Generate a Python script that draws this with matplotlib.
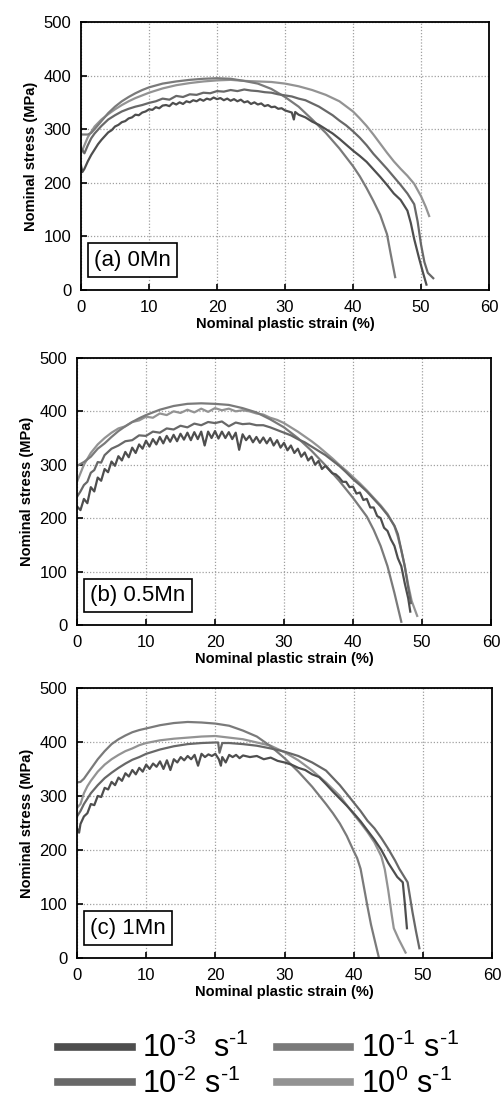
import matplotlib
matplotlib.use("Agg")
import matplotlib.pyplot as plt
from matplotlib.lines import Line2D

plt.rcParams['font.family'] = ['Liberation Sans', 'DejaVu Sans']
plt.rcParams['mathtext.fontset'] = 'custom'
plt.rcParams['mathtext.rm'] = 'Liberation Sans'
plt.rcParams['mathtext.it'] = 'Liberation Sans'

# --------------------- Data --------------------------------------------
# (a) 0Mn
a_x3 = [0, 0.2, 0.5, 1.0, 1.5, 2.0, 2.5, 3.0, 3.5, 4.0, 4.5, 5.0, 5.5, 6.0, 6.5, 7.0, 7.5, 8.0, 8.5, 9.0,
        9.5, 10.0, 10.5, 11.0, 11.5, 12.0, 12.5, 13.0, 13.5, 14.0, 14.5, 15.0, 15.5, 16.0, 16.5, 17.0, 17.5,
        18.0, 18.5, 19.0, 19.5, 20.0, 20.5, 21.0, 21.5, 22.0, 22.5, 23.0, 23.5, 24.0, 24.5, 25.0, 25.5, 26.0,
        26.5, 27.0, 27.5, 28.0, 28.5, 29.0, 29.5, 30.0, 30.5, 31.0, 31.3, 31.5, 32.0, 33, 34, 35, 36, 37, 38,
        39, 40, 41, 42, 43, 44, 45, 46, 47, 48, 48.5, 49, 49.7, 50.3, 50.8]
a_y3 = [232, 220, 226, 240, 252, 262, 272, 280, 287, 294, 298, 305, 308, 313, 315, 320, 322, 327, 326, 331,
        333, 337, 336, 341, 339, 344, 345, 343, 349, 346, 350, 347, 352, 350, 354, 352, 356, 353, 357, 355,
        359, 356, 358, 354, 357, 353, 356, 352, 355, 350, 352, 347, 350, 346, 348, 343, 345, 341, 342, 338,
        339, 335, 333, 331, 318, 332, 327, 322, 314, 308, 300, 292, 282, 271, 260, 250, 239, 225, 211, 196,
        180, 168, 148, 125, 95, 60, 32, 10]
a_x2 = [0, 0.5, 1, 1.5, 2, 3, 4, 5, 6, 7, 8, 9, 10, 11, 12, 13, 14, 15, 16, 17, 18, 19, 20, 21, 22, 23, 24,
        25, 26, 27, 28, 29, 30, 31, 32, 33, 34, 35, 36, 37, 38, 39, 40, 41, 42, 43, 44, 45, 46, 47, 48, 49,
        49.5, 50, 50.5, 51, 51.8]
a_y2 = [265, 255, 270, 283, 292, 306, 318, 326, 333, 338, 342, 345, 349, 352, 357, 355, 362, 360, 365, 364,
        368, 367, 371, 370, 373, 371, 374, 372, 371, 369, 368, 365, 363, 361, 357, 354, 348, 342, 334, 326,
        316, 307, 296, 284, 270, 254, 240, 226, 211, 196, 180, 160, 128, 85, 52, 32, 22]
a_x1 = [0, 1.0, 1.5, 2, 3, 4, 5, 6, 7, 8, 9, 10, 12, 14, 16, 18, 20, 22, 24, 26, 28, 30, 32, 34, 36, 38, 40,
        41, 42, 43, 44, 45, 45.5, 46.2]
a_y1 = [290, 290, 293, 300, 315, 330, 342, 352, 360, 367, 373, 378, 385, 389, 392, 394, 395, 394, 390, 385,
        375, 360, 342, 318, 293, 264, 231, 212, 190, 166, 140, 104, 70, 24]
a_x0 = [0, 0.5, 1, 2, 3, 4, 5, 6, 7, 8, 9, 10, 12, 14, 16, 18, 20, 22, 24, 26, 28, 30, 32, 34, 36, 38, 40,
        41, 42, 43, 44, 45, 46, 47, 48, 49, 50, 50.7, 51.2]
a_y0 = [255, 270, 285, 305, 318, 328, 337, 345, 352, 358, 363, 368, 376, 382, 386, 389, 391, 392, 390, 389,
        388, 385, 380, 373, 364, 352, 333, 320, 306, 290, 273, 256, 240, 226, 213, 198, 175, 155, 138]

# (b) 0.5Mn
b_x3 = [0, 0.5, 1.0, 1.5, 2.0, 2.5, 3.0, 3.5, 4.0, 4.5, 5.0, 5.5, 6.0, 6.5, 7.0, 7.5, 8.0, 8.5, 9.0, 9.5,
        10.0, 10.5, 11.0, 11.5, 12.0, 12.5, 13.0, 13.5, 14.0, 14.5, 15.0, 15.5, 16.0, 16.5, 17.0, 17.5, 18.0,
        18.5, 19.0, 19.5, 20.0, 20.5, 21.0, 21.5, 22.0, 22.5, 23.0, 23.5, 24.0, 24.5, 25.0, 25.5, 26.0, 26.5,
        27.0, 27.5, 28.0, 28.5, 29.0, 29.5, 30.0, 30.5, 31.0, 31.5, 32.0, 32.5, 33.0, 33.5, 34.0, 34.5, 35.0,
        35.5, 36.0, 37, 37.5, 38, 38.5, 39, 39.5, 40, 40.5, 41, 41.5, 42, 42.5, 43, 43.5, 44, 44.5, 45, 45.5,
        46, 46.5, 47, 47.5, 48, 48.3]
b_y3 = [222, 215, 236, 228, 258, 250, 276, 270, 292, 286, 306, 298, 316, 308, 324, 314, 332, 322, 338, 330,
        345, 334, 348, 338, 352, 340, 354, 343, 356, 344, 358, 347, 360, 346, 361, 348, 362, 336, 362, 350,
        363, 349, 362, 350, 361, 348, 360, 328, 357, 346, 354, 342, 352, 341, 351, 340, 350, 336, 346, 332,
        341, 327, 336, 322, 330, 315, 323, 308, 315, 300, 307, 292, 298, 284, 282, 276, 268, 268, 258, 259,
        246, 248, 234, 236, 220, 220, 204, 200, 182, 176, 160, 148, 125, 110, 78, 50, 25]
b_x2 = [0, 0.5, 1, 1.5, 2, 2.5, 3, 3.5, 4, 5, 6, 7, 8, 9, 10, 11, 12, 13, 14, 15, 16, 17, 18, 19, 20, 21, 22,
        23, 24, 25, 26, 27, 28, 29, 30, 31, 32, 33, 34, 35, 36, 37, 38, 39, 40, 41, 42, 43, 44, 45, 46, 46.5,
        47, 47.5, 48, 48.4]
b_y2 = [240, 250, 262, 268, 285, 290, 305, 304, 318, 330, 336, 344, 346, 355, 354, 362, 360, 368, 366, 373,
        370, 377, 374, 380, 378, 381, 372, 379, 376, 377, 374, 374, 370, 365, 360, 355, 348, 342, 334, 326,
        318, 308, 298, 286, 273, 262, 250, 236, 222, 206, 186, 170, 140, 110, 70, 41]
b_x1 = [0, 1, 2, 3, 4, 5, 6, 7, 8, 9, 10, 12, 14, 16, 18, 20, 22, 24, 26, 28, 30, 32, 34, 36, 38, 40, 42, 43,
        44, 45, 46, 47]
b_y1 = [298, 305, 315, 330, 340, 352, 363, 372, 380, 387, 393, 403, 410, 414, 415, 414, 412, 406, 398, 385,
        370, 350, 326, 299, 270, 238, 203, 178, 148, 110, 60, 6]
b_x0 = [0, 1, 2, 3, 4, 5, 6, 7, 8, 9, 10, 11, 12, 13, 14, 15, 16, 17, 18, 19, 20, 21, 22, 23, 24, 25, 26, 27,
        28, 29, 30, 31, 32, 33, 34, 35, 36, 37, 38, 39, 40, 41, 42, 43, 44, 45, 46, 46.5, 47, 47.5, 48, 48.5,
        49.3]
b_y0 = [268, 300, 322, 338, 350, 360, 368, 372, 380, 383, 390, 388, 396, 393, 400, 397, 403, 398, 405, 399,
        406, 402, 405, 400, 402, 400, 396, 394, 388, 384, 378, 370, 362, 353, 344, 334, 323, 312, 300, 289,
        277, 265, 252, 238, 224, 208, 185, 165, 140, 110, 75, 45, 17]

# (c) 1Mn
c_x3 = [0, 0.3, 0.5, 1.0, 1.5, 2.0, 2.5, 3.0, 3.5, 4.0, 4.5, 5.0, 5.5, 6.0, 6.5, 7.0, 7.5, 8.0, 8.5, 9.0,
        9.5, 10.0, 10.5, 11.0, 11.5, 12.0, 12.5, 13.0, 13.5, 14.0, 14.5, 15.0, 15.5, 16.0, 16.5, 17.0, 17.5,
        18.0, 18.5, 19.0, 19.5, 20.0, 20.5, 20.8, 21.0, 21.5, 22.0, 22.5, 23.0, 23.5, 24.0, 25, 26, 27, 28,
        29, 30, 31, 32, 33, 34, 35, 36, 37, 38, 39, 40, 41, 42, 43, 44, 45, 45.8, 46.3, 47.1, 47.4, 47.7]
c_y3 = [240, 232, 248, 262, 268, 285, 283, 300, 298, 315, 312, 326, 320, 334, 328, 342, 336, 348, 340, 352,
        345, 358, 350, 360, 354, 364, 350, 366, 348, 368, 362, 372, 366, 374, 368, 376, 356, 378, 372, 377,
        374, 378, 368, 356, 372, 362, 376, 372, 376, 370, 375, 372, 374, 368, 371, 365, 362, 358, 352, 348,
        340, 335, 322, 308, 295, 282, 268, 253, 236, 219, 200, 176, 160, 150, 140, 100, 55]
c_x2 = [0, 0.5, 1, 2, 3, 4, 5, 6, 7, 8, 9, 10, 12, 14, 16, 18, 20, 20.4, 20.6, 21, 22, 24, 26, 28, 30, 32,
        34, 36, 38, 40, 41, 42, 43, 44, 45, 46, 46.6, 47.8, 48.5, 49, 49.5]
c_y2 = [262, 272, 285, 305, 320, 333, 343, 352, 360, 367, 372, 378, 386, 392, 396, 398, 399, 399, 380, 398,
        398, 396, 393, 388, 382, 374, 362, 347, 320, 288, 272, 254, 240, 222, 202, 180, 165, 140, 85, 50, 18]
c_x1 = [0, 0.5, 1, 2, 3, 4, 5, 6, 7, 8, 9, 10, 12, 14, 16, 18, 20, 22, 24, 26, 28, 30, 32, 34, 36, 37, 38,
        39, 40, 40.5, 41, 41.5, 42, 42.5, 43, 43.6]
c_y1 = [325, 326, 332, 350, 368, 383, 396, 405, 412, 418, 422, 425, 431, 435, 437, 436, 434, 430, 421, 410,
        392, 370, 345, 317, 285, 268, 249, 226, 198, 185, 165, 130, 95, 62, 35, 3]
c_x0 = [0, 0.5, 1, 1.5, 2, 3, 4, 5, 6, 7, 8, 9, 10, 12, 14, 16, 18, 20, 22, 24, 26, 28, 30, 32, 34, 36, 38,
        40, 41, 42, 43, 44, 44.5, 45, 45.5, 45.8, 46.5, 47.5]
c_y0 = [278, 285, 305, 318, 328, 345, 358, 368, 376, 383, 388, 394, 398, 403, 406, 408, 410, 411, 408, 405,
        399, 393, 381, 366, 347, 325, 300, 266, 250, 233, 214, 188, 164, 125, 80, 55, 35, 10]

rate_labels = [r'10$^{\text{-3}}$  s$^{\text{-1}}$', r'10$^{\text{-2}}$ s$^{\text{-1}}$',
               r'10$^{\text{-1}}$ s$^{\text{-1}}$', r'10$^{0}$ s$^{\text{-1}}$']
panel_labels = ['(a) 0Mn', '(b) 0.5Mn', '(c) 1Mn']
x_ticks = [0, 10, 20, 30, 40, 50, 60]
y_ticks = [0, 100, 200, 300, 400, 500]

colors = ['#4e4e4e', '#686868', '#7a7a7a', '#939393']

panels = [
    [(a_x3, a_y3), (a_x2, a_y2), (a_x1, a_y1), (a_x0, a_y0)],
    [(b_x3, b_y3), (b_x2, b_y2), (b_x1, b_y1), (b_x0, b_y0)],
    [(c_x3, c_y3), (c_x2, c_y2), (c_x1, c_y1), (c_x0, c_y0)],
]

# axes rectangles in figure fraction (left, bottom, width, height)
rects = [
    (0.1614, 0.7371, 0.8127, 0.2430),
    (0.1534, 0.4334, 0.8247, 0.2421),
    (0.1534, 0.1315, 0.8267, 0.2448),
]

# --------------------- Plotting ------------------------
fig = plt.figure(figsize=(5.02, 11.03), dpi=100)

for curves, rect, lab in zip(panels, rects, panel_labels):
    ax = fig.add_axes(rect)
    # lighter curves first so the dark noisy one sits on top
    for (xs, ys), col in reversed(list(zip(curves, colors))):
        ax.plot(xs, ys, color=col, lw=1.6)
    ax.set_xlim(0, 60)
    ax.set_ylim(0, 500)
    ax.set_xticks(x_ticks)
    ax.set_yticks(y_ticks)
    ax.grid(True, color='#a0a0a0', linestyle=(0, (1, 1.5)), lw=0.9)
    ax.tick_params(direction='in', length=4, width=1.2, labelsize=12, colors='black')
    ax.tick_params(axis='x', pad=7)
    ax.tick_params(axis='y', pad=7)
    for sp in ax.spines.values():
        sp.set_linewidth(1.3)
    ax.set_xlabel('Nominal plastic strain (%)', fontsize=10.5, fontweight='bold', labelpad=2)
    ax.set_ylabel('Nominal stress (MPa)', fontsize=10.5, fontweight='bold', labelpad=4)
    ax.text(0.032, 0.072, lab, transform=ax.transAxes, fontsize=16, ha='left', va='bottom',
            bbox=dict(boxstyle='square,pad=0.28', fc='white', ec='black', lw=1.2))

handles = [Line2D([0], [0], color=c, lw=5.5) for c in colors]
fig.legend(handles, rate_labels, ncol=2, loc='center', bbox_to_anchor=(0.515, 0.033),
           frameon=False, fontsize=22, handlelength=2.4, handletextpad=0.35,
           columnspacing=0.9, labelspacing=0.15, borderpad=0)

fig.savefig('out.png', dpi=100)
